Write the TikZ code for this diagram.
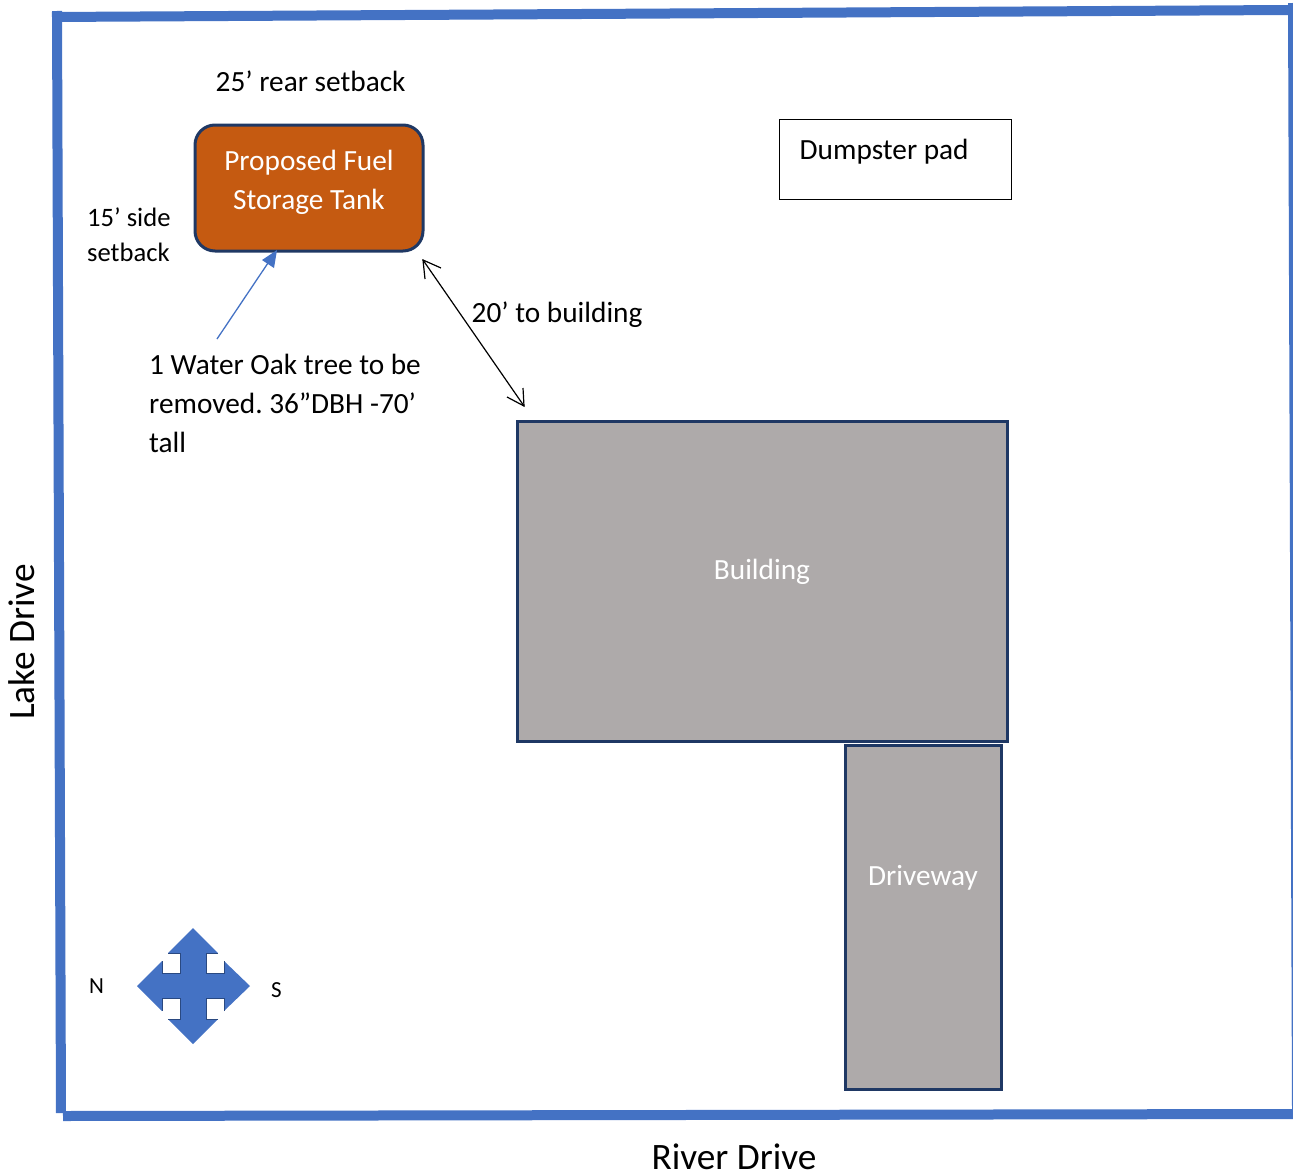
\documentclass[tikz,border=0pt]{standalone}
\usepackage{fontspec}
\setmainfont{Carlito}
\frenchspacing
\definecolor{frameblue}{HTML}{4472C4}
\definecolor{navy}{HTML}{1F3864}
\definecolor{tank}{HTML}{C55A11}
\definecolor{graybox}{HTML}{AEAAAA}
\tikzset{
  px/.style={x=1pt,y=-1pt},
  frameline/.style={draw=frameblue,line width=10pt},
  graybld/.style={draw=navy,line width=3pt,fill=graybox},
  lbl/.style={inner sep=0pt,font=\fontsize{29.3}{39}\selectfont,align=left,text=black},
  lblw/.style={inner sep=0pt,font=\fontsize{29.3}{39}\selectfont,align=center,text=white},
}
\begin{document}
\begin{tikzpicture}[px]
\useasboundingbox (0,0) rectangle (1293,1172);
\draw[frameline] (52,17) -- (1288,10);
\draw[frameline] (57,11) -- (61,1113);
\draw[frameline] (63,1116) -- (1293,1114);
\draw[frameline] (1293,3) -- (1297,1110);
% tank
\node[draw=navy,line width=3pt,fill=tank,rounded corners=20pt,minimum width=228pt,minimum height=126pt,inner sep=0pt] (tankbox) at (309,188) {};
\draw[navy,line width=1pt] (194.5,148) -- (194.5,188);
\node[lblw] (tanktext) at (309,182) {Proposed Fuel\\Storage Tank};
% dumpster
\node[draw=black,line width=1pt,minimum width=232pt,minimum height=80pt,inner sep=0pt] (dump) at (895,159.5) {};
\node[lbl,anchor=base west] (dumptext) at (799.5,159) {Dumpster pad};
% building
\node[graybld,minimum width=490pt,minimum height=320pt,inner sep=0pt] (bld) at (762,581) {};
\node[lblw] (bldtext) at (762,572) {Building};
% driveway
\node[graybld,minimum width=156pt,minimum height=344pt,inner sep=0pt] (drive) at (923,917) {};
\node[lblw] (drivetext) at (923,878) {Driveway};
% labels
\node[lbl,anchor=base west] (rear) at (215.5,92) {25’ rear setback};
\node[lbl,anchor=base west,font=\fontsize{26.6}{35}\selectfont] (side) at (87,261) {15’ side\\setback};
\node[lbl,anchor=base west] (twenty) at (471.5,322) {20’ to building};
\node[lbl,anchor=north west] (oak) at (149,354) {1 Water Oak tree to be\\removed. 36”DBH -70’\\tall};
\node[lbl,rotate=90,font=\fontsize{37.3}{42}\selectfont] (lake) at (22,642) {Lake Drive};
\node[lbl,font=\fontsize{37.3}{42}\selectfont,anchor=base] (river) at (734,1169) {River Drive};
\node[lbl,font=\fontsize{23}{26}\selectfont] (n) at (96.5,986) {N};
\node[lbl,font=\fontsize{23}{26}\selectfont] (s) at (276.5,990) {S};
% arrows
\coordinate (oakstart) at (217,339);
\coordinate (oaktip) at (277,250);
\fill[frameblue] (oaktip) -- (262,260) -- (274,268) -- cycle;
\draw[frameblue,line width=1.3pt] (oakstart) -- (268,263);
\coordinate (da) at (423,260);
\coordinate (db) at (524,406);
\draw[black,line width=1.2pt] (da) -- (db);
\draw[black,line width=1.2pt] (441,268) -- (da) -- (425,279);
\draw[black,line width=1.2pt] (507,397) -- (db) -- (523,388);
% compass
\fill[frameblue]
 (193,928) -- (218,953) -- (206,953) -- (206,973) -- (224,973) -- (224,961) -- (250,986)
 -- (224,1011) -- (224,998) -- (206,998) -- (206,1019) -- (218,1019) -- (193,1044)
 -- (168,1019) -- (180,1019) -- (180,998) -- (162,998) -- (162,1011) -- (137,986)
 -- (162,961) -- (162,973) -- (180,973) -- (180,953) -- (168,953) -- cycle;
\draw[navy!70!frameblue,line width=1pt]
 (168,953) -- (180,953) -- (180,973) -- (162,973) -- (162,961)
 (218,953) -- (206,953) -- (206,973) -- (224,973) -- (224,961)
 (168,1019) -- (180,1019) -- (180,998) -- (162,998) -- (162,1011)
 (218,1019) -- (206,1019) -- (206,998) -- (224,998) -- (224,1011);
\end{tikzpicture}
\end{document}
